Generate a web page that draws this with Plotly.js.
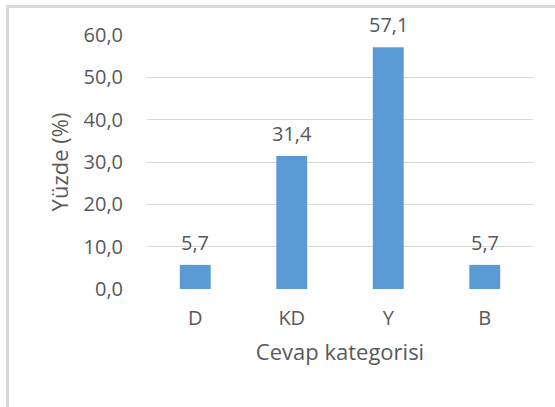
<!DOCTYPE html>
<html>
<head>
<meta charset="utf-8">
<script src="https://cdn.plot.ly/plotly-3.0.1.min.js"></script>
<style>
  html, body { margin: 0; padding: 0; background: #fff; }
  #frame { position: absolute; left: 6px; top: 5px; width: 700px; height: 600px;
           border: 3px solid #d9d9d9; box-sizing: border-box; }
  #chart { position: absolute; left: 0; top: 0; width: 555px; height: 407px; }
</style>
</head>
<body>
<div id="frame"></div>
<div id="chart"></div>
<script>
const categories = ["D", "KD", "Y", "B"];
const values = [5.7, 31.4, 57.1, 5.7];
const valueLabels = ["5,7", "31,4", "57,1", "5,7"];
const yTickVals = [0, 10, 20, 30, 40, 50, 60];
const yTickText = ["0,0", "10,0", "20,0", "30,0", "40,0", "50,0", "60,0"];

const FONT = "Open Sans, Lato, sans-serif";
const TXT = "#595959";

const trace = {
  type: "bar",
  x: categories,
  y: values,
  marker: { color: "#5B9BD5" },
  width: 0.32,
  hoverinfo: "none"
};

const annotations = categories.map((c, i) => ({
  x: c, y: values[i], xref: "x", yref: "y",
  text: valueLabels[i], showarrow: false,
  yanchor: "bottom", yshift: 7,
  font: { family: FONT, size: 20, color: TXT }
}));

const layout = {
  width: 555, height: 407,
  margin: { l: 147, r: 22, t: 35, b: 118 },
  paper_bgcolor: "rgba(0,0,0,0)",
  plot_bgcolor: "rgba(0,0,0,0)",
  showlegend: false,
  font: { family: FONT, color: TXT, size: 20 },
  xaxis: {
    type: "category",
    showgrid: false,
    zeroline: false,
    showline: false,
    ticks: "",
    ticklabelstandoff: 15,
    tickfont: { family: FONT, size: 20, color: TXT },
    title: { text: "Cevap kategorisi", font: { family: FONT, size: 22, color: TXT }, standoff: 14 }
  },
  yaxis: {
    range: [0, 60],
    tickvals: yTickVals,
    ticktext: yTickText,
    showgrid: true,
    gridcolor: "#d9d9d9",
    gridwidth: 1,
    zeroline: false,
    showline: false,
    ticks: "",
    ticklabelstandoff: 23,
    tickfont: { family: FONT, size: 20, color: TXT },
    title: { text: "Yüzde (%)", font: { family: FONT, size: 22, color: TXT }, standoff: 8 }
  },
  annotations: annotations
};

Plotly.newPlot("chart", [trace], layout, { displayModeBar: false, staticPlot: true });
</script>
</body>
</html>
